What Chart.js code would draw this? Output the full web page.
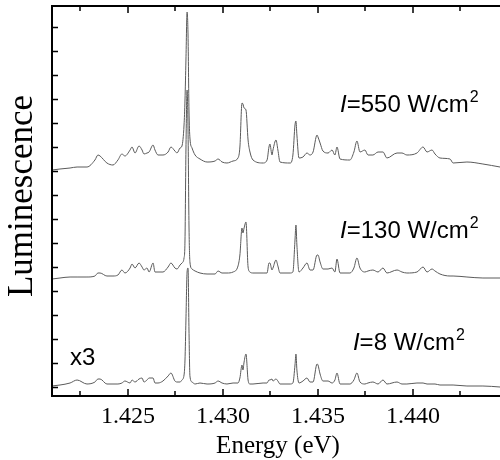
<!DOCTYPE html>
<html>
<head>
<meta charset="utf-8">
<script src="https://cdn.jsdelivr.net/npm/chart.js@4"></script>
<style>
html,body{margin:0;padding:0;background:#fff;}
canvas{display:block;}
</style>
</head>
<body>
<canvas id="c" width="500" height="460"></canvas>
<script>
// Energy grid (eV)
const energy = [
1.42100,1.42142,1.42195,1.42232,1.42284,1.42326,1.42342,1.42353,1.42389,1.42421,
1.42447,1.42468,1.42484,1.42511,1.42521,1.42537,1.42558,1.42574,1.42584,1.42600,
1.42611,1.42632,1.42642,1.42658,1.42684,1.42711,1.42726,1.42747,1.42758,1.42774,
1.42784,1.42795,1.42800,1.42805,1.42811,1.42816,1.42821,1.42826,1.42837,1.42853,
1.42879,1.42916,1.42958,1.42974,1.42995,1.43021,1.43053,1.43079,1.43089,1.43100,
1.43105,1.43111,1.43121,1.43132,1.43142,1.43158,1.43211,1.43232,1.43242,1.43247,
1.43258,1.43263,1.43279,1.43289,1.43300,1.43353,1.43368,1.43379,1.43384,1.43389,
1.43400,1.43421,1.43442,1.43458,1.43474,1.43495,1.43500,1.43511,1.43526,1.43553,
1.43574,1.43589,1.43600,1.43616,1.43668,1.43689,1.43705,1.43721,1.43747,1.43763,
1.43789,1.43816,1.43842,1.43863,1.43916,1.43942,1.43968,1.44021,1.44053,1.44074,
1.44100,1.44116,1.44142,1.44195,1.44211,1.44284,1.44368,1.44458];

// Luminescence (arb. units, offset spectra)
const lum550 = [
217,218,219,220,220,227,232,231,224,222,
227,233,231,237,240,234,241,237,233,234,
235,242,237,232,232,235,240,236,234,239,
241,262,287,327,375,352,277,249,239,232,
228,225,226,228,225,224,226,229,240,284,
283,279,277,247,235,227,224,227,240,243,
232,237,247,237,225,224,232,262,266,252,
229,230,234,232,235,252,250,244,236,234,
237,232,240,228,227,235,246,235,237,232,
232,235,235,229,234,234,232,234,240,235,
237,233,229,228,224,225,223,220];

const lum130 = [
108,109,110,110,110,111,114,114,111,111,
112,117,114,119,123,119,124,120,117,119,
115,124,115,115,115,120,124,119,118,122,
124,129,147,237,297,257,162,125,118,116,
114,113,113,116,114,114,115,121,132,159,
154,159,165,120,115,114,114,114,124,124,
117,119,127,121,114,114,115,147,162,142,
115,119,124,117,117,132,132,125,118,118,
119,115,128,114,114,119,129,119,115,116,
117,115,119,114,117,115,114,115,120,115,
118,116,113,111,111,110,109,109];

const lum8 = [
1,2,4,7,3,5,8,8,3,3,
3,4,6,4,7,5,8,9,5,7,
9,9,4,4,6,11,14,6,5,5,
7,12,27,67,115,119,57,11,5,3,
4,3,4,6,4,3,4,4,9,22,
17,25,33,7,3,3,4,4,7,7,
8,6,8,6,3,3,4,22,33,17,
4,6,9,5,5,23,22,13,6,6,
4,7,14,3,3,7,14,5,3,4,
5,3,7,3,5,3,3,4,4,3,
3,3,2,2,2,1,1,0];

const xMajorTicks = [1.425, 1.430, 1.435, 1.440];
const xMajorLabels = ["1.425", "1.430", "1.435", "1.440"];
const xMinorTicks = [1.4225, 1.4275, 1.4325, 1.4375, 1.4425];
const yTicks = [0,24,48,72,96,120,144,168,192,216,240,264,288,312,336,360];

const seriesLabels = ["I=550 W/cm2", "I=130 W/cm2", "I=8 W/cm2"];
const seriesPower = ["550", "130", "8"];
// label anchor positions in data coordinates [energy, intensity]
const labelAnchors = [[1.43616, 275], [1.43616, 149], [1.43684, 37]];
const scaleNote = "x3";
const scaleNoteAnchor = [1.42195, 22];

const xTitle = "Energy (eV)";
const yTitle = "Luminescence";

const toXY = arr => arr.map((v, i) => ({x: energy[i], y: v}));

const overlay = {
  id: 'overlay',
  afterDraw(chart) {
    const {ctx, chartArea: a, scales: {x, y}} = chart;
    ctx.save();
    ctx.strokeStyle = '#000';
    ctx.lineWidth = 2;
    ctx.beginPath();
    ctx.moveTo(a.left, a.top); ctx.lineTo(a.right, a.top);
    ctx.moveTo(a.left, a.top - 1); ctx.lineTo(a.left, a.bottom + 1);
    ctx.moveTo(a.left - 1, a.bottom); ctx.lineTo(a.right, a.bottom);
    ctx.stroke();

    ctx.lineWidth = 1.5;
    ctx.beginPath();
    yTicks.forEach(v => {
      const py = Math.round(y.getPixelForValue(v)) + 0.5;
      ctx.moveTo(a.left, py); ctx.lineTo(a.left + 6, py);
    });
    xMajorTicks.forEach(v => {
      const px = Math.round(x.getPixelForValue(v));
      ctx.moveTo(px, a.bottom); ctx.lineTo(px, a.bottom - 7);
      ctx.moveTo(px, a.top); ctx.lineTo(px, a.top + 7);
    });
    xMinorTicks.forEach(v => {
      const px = Math.round(x.getPixelForValue(v));
      ctx.moveTo(px, a.bottom); ctx.lineTo(px, a.bottom - 5);
      ctx.moveTo(px, a.top); ctx.lineTo(px, a.top + 5);
    });
    ctx.stroke();

    // tick labels
    ctx.fillStyle = '#000';
    ctx.font = '24px "Liberation Serif", "Times New Roman", serif';
    ctx.textAlign = 'center';
    ctx.textBaseline = 'alphabetic';
    xMajorTicks.forEach((v, i) => {
      ctx.fillText(xMajorLabels[i], x.getPixelForValue(v), a.bottom + 27);
    });
    // axis titles
    ctx.font = '25px "Liberation Serif", "Times New Roman", serif';
    ctx.fillText(xTitle, (a.left + a.right) / 2 + 2, a.bottom + 57);
    ctx.save();
    ctx.translate(32, 196);
    ctx.rotate(-Math.PI / 2);
    ctx.font = '35px "Liberation Serif", "Times New Roman", serif';
    ctx.fillText(yTitle, 0, 0);
    ctx.restore();

    // series labels
    ctx.textAlign = 'left';
    labelAnchors.forEach((p, i) => {
      let px = x.getPixelForValue(p[0]);
      const py = y.getPixelForValue(p[1]);
      ctx.font = 'italic 24px "Liberation Sans", Arial, sans-serif';
      ctx.fillText('I', px, py);
      px += ctx.measureText('I').width;
      ctx.font = '24px "Liberation Sans", Arial, sans-serif';
      const main = '=' + seriesPower[i] + ' W/cm';
      ctx.fillText(main, px, py);
      px += ctx.measureText(main).width + 1;
      ctx.font = '16px "Liberation Sans", Arial, sans-serif';
      ctx.fillText('2', px, py - 10);
    });
    ctx.font = '24px "Liberation Sans", Arial, sans-serif';
    ctx.fillText(scaleNote, x.getPixelForValue(scaleNoteAnchor[0]), y.getPixelForValue(scaleNoteAnchor[1]));
    ctx.restore();
  }
};

const lineStyle = {
  borderColor: '#5a5a5a',
  borderWidth: 1,
  pointRadius: 0,
  fill: false,
  tension: 0.3,
  cubicInterpolationMode: 'monotone'
};

new Chart(document.getElementById('c'), {
  type: 'line',
  data: {
    datasets: [
      Object.assign({label: seriesLabels[0], data: toXY(lum550)}, lineStyle),
      Object.assign({label: seriesLabels[1], data: toXY(lum130)}, lineStyle),
      Object.assign({label: seriesLabels[2], data: toXY(lum8)}, lineStyle)
    ]
  },
  options: {
    responsive: false,
    devicePixelRatio: 1,
    animation: false,
    parsing: false,
    layout: {padding: {left: 52, top: 6, right: 0, bottom: 64}},
    plugins: {legend: {display: false}, tooltip: {enabled: false}},
    scales: {
      x: {type: 'linear', min: 1.421, max: 1.44458, display: false},
      y: {type: 'linear', min: -9, max: 381, display: false}
    }
  },
  plugins: [overlay]
});
</script>
</body>
</html>
